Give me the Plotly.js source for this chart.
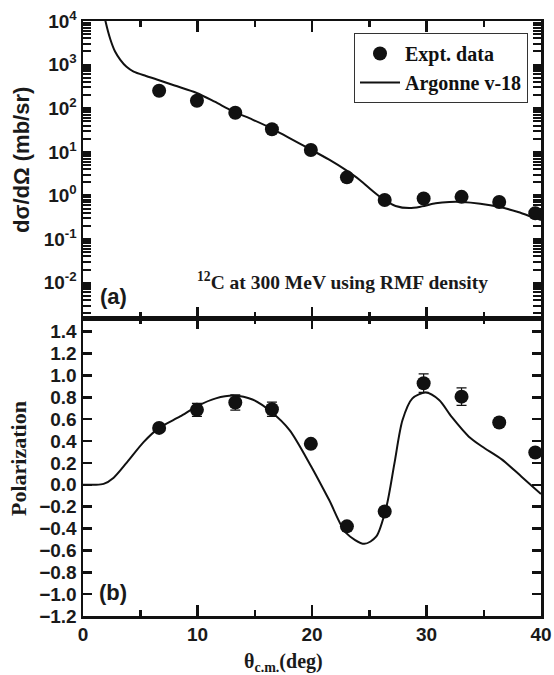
<!DOCTYPE html>
<html>
<head>
<meta charset="utf-8">
<script src="https://cdn.plot.ly/plotly-3.0.1.min.js"></script>
<style>html,body{margin:0;padding:0;background:#fff;}#chart{width:554px;height:675px;}</style>
</head>
<body>
<div id="chart"></div>
<script>
// ---- Data ----
const exptAngle = [6.65, 9.95, 13.3, 16.5, 19.9, 23.05, 26.35, 29.75, 33.06, 36.35, 39.5];
const exptXsec  = [251, 148, 79, 33, 11, 2.6, 0.79, 0.85, 0.93, 0.71, 0.39];
const exptPol   = [0.52, 0.685, 0.752, 0.69, 0.374, -0.38, -0.244, 0.929, 0.806, 0.569, 0.295];
const exptPolErr= [0.02, 0.06, 0.07, 0.065, 0.03, 0.03, 0.03, 0.085, 0.08, 0.04, 0.03];

const calcAngleX = [1.2, 1.96, 2.4, 2.8, 3.26, 3.8, 4.42, 5.5, 6.45, 8, 9.93, 11.5, 13.1, 14.8, 16.45, 18, 19.84, 21.5, 22.97, 24.2, 25.3, 26.3, 27.3, 28.5, 29.6, 30.8, 32, 33.1, 34.7, 36.3, 38, 39.5, 40];
const calcXsec   = [100000, 10000, 3715, 1995, 1288, 891, 692, 550, 457, 331, 224, 141, 85, 55, 34.7, 20.9, 11.5, 6.6, 3.8, 2.24, 1.26, 0.79, 0.575, 0.513, 0.562, 0.66, 0.708, 0.708, 0.646, 0.55, 0.417, 0.302, 0.275];

const calcAngleP = [0, 1.0, 1.8, 2.68, 3.84, 5.29, 6.65, 8.48, 10, 11.6, 13.2, 14.8, 16.4, 18.04, 19.93, 21.5, 22.97, 24.57, 25.6, 26.5, 27.2, 27.9, 28.77, 29.93, 31.1, 32.2, 33.7, 34.85, 36.6, 38.3, 40];
const calcPol    = [0, 0, 0.008, 0.065, 0.205, 0.39, 0.52, 0.625, 0.72, 0.79, 0.815, 0.78, 0.67, 0.50, 0.167, -0.14, -0.44, -0.54, -0.475, -0.2, 0.196, 0.59, 0.79, 0.843, 0.775, 0.62, 0.44, 0.35, 0.23, 0.074, -0.085];

const xsecTickVals = [1e-2, 1e-1, 1e0, 1e1, 1e2, 1e3, 1e4];
const xsecTickText = ['10<sup>-2</sup>','10<sup>-1</sup>','10<sup>0</sup>','10<sup>1</sup>','10<sup>2</sup>','10<sup>3</sup>','10<sup>4</sup>'];
const minorDigits  = [2, 3, 4, 5, 6, 7, 8, 9];

// ---- Styling ----
const sans = 'Liberation Sans, Arial, sans-serif';
const serif = 'Liberation Serif, Times New Roman, serif';
const tickFont = {family: sans, size: 19, color: '#1a1a1a', weight: 'bold'};
const axisCommon = {
  showline: true, linecolor: '#111', linewidth: 2.5, mirror: 'ticks',
  ticks: 'inside', tickcolor: '#111', tickwidth: 2.5, showgrid: false, zeroline: false
};

// log axis ticks: labelled decades plus unlabelled digit ticks in between
const logTickVals = xsecTickVals.slice();
const logTickText = xsecTickText.slice();
[1e-3].concat(xsecTickVals.slice(0, -1)).forEach(d => minorDigits.forEach(m => {
  logTickVals.push(d * m); logTickText.push(' ');
}));

const traces = [
  {x: exptAngle, y: exptXsec, xaxis: 'x', yaxis: 'y', type: 'scatter', mode: 'markers',
   name: 'Expt. data', marker: {symbol: 'circle', size: 14, color: '#111'}},
  {x: calcAngleX, y: calcXsec, xaxis: 'x', yaxis: 'y', type: 'scatter', mode: 'lines',
   name: 'Argonne v-18', line: {color: '#111', width: 2, shape: 'spline', smoothing: 0.8}},
  {x: exptAngle, y: exptPol, xaxis: 'x2', yaxis: 'y2', type: 'scatter', mode: 'markers',
   name: 'Expt. data', showlegend: false,
   error_y: {type: 'data', array: exptPolErr, visible: true, color: '#111', thickness: 1.2, width: 5},
   marker: {symbol: 'circle', size: 14, color: '#111'}},
  {x: calcAngleP, y: calcPol, xaxis: 'x2', yaxis: 'y2', type: 'scatter', mode: 'lines',
   name: 'Argonne v-18', showlegend: false,
   line: {color: '#111', width: 2, shape: 'spline', smoothing: 0.8}}
];

const py = p => (616 - p) / 595;   // pixel -> paper helpers (layout only)
const px = p => (p - 83) / 458;

function ann(text, x, y, font, extra) {
  return Object.assign({text: text, xref: 'paper', yref: 'paper', x: px(x), y: py(y),
    xanchor: 'center', yanchor: 'middle', showarrow: false, font: font}, extra || {});
}

const layout = {
  width: 554, height: 675,
  margin: {l: 83, r: 13, t: 21, b: 59},
  paper_bgcolor: '#fff', plot_bgcolor: '#fff',
  showlegend: true,
  legend: {x: px(528), y: py(33), xanchor: 'right', yanchor: 'top',
    bordercolor: '#333', borderwidth: 1, bgcolor: '#fff',
    font: {family: serif, size: 20, color: '#111', weight: 'bold'},
    tracegroupgap: 0, itemwidth: 40},
  xaxis: Object.assign({}, axisCommon, {domain: [0, 1], range: [0, 40], anchor: 'y',
    showticklabels: false, dtick: 10, ticklen: 11,
    minor: {dtick: 5, ticks: 'inside', ticklen: 6, tickwidth: 2.5, tickcolor: '#111'}}),
  yaxis: Object.assign({}, axisCommon, {domain: [py(318), 1], type: 'log', range: [-2.809, 4], anchor: 'x',
    tickmode: 'array', tickvals: logTickVals, ticktext: logTickText, ticklen: 8, tickwidth: 2,
    tickfont: tickFont}),
  xaxis2: Object.assign({}, axisCommon, {domain: [0, 1], range: [0, 40], anchor: 'y2',
    dtick: 10, ticklen: 11, tickfont: tickFont,
    minor: {dtick: 5, ticks: 'inside', ticklen: 6, tickwidth: 2.5, tickcolor: '#111'}}),
  yaxis2: Object.assign({}, axisCommon, {domain: [0, py(318)], range: [-1.2, 1.525], anchor: 'x2',
    dtick: 0.2, tick0: 0, tickformat: '.1f', ticklen: 9, tickfont: tickFont}),
  annotations: [
    ann('dσ/dΩ (mb/sr)', 22, 160, {family: sans, size: 22, color: '#1a1a1a', weight: 'bold'}, {textangle: -90}),
    ann('Polarization', 18, 459, {family: serif, size: 22, color: '#1a1a1a', weight: 'bold'}, {textangle: -90}),
    ann('θ<sub>c.m.</sub>(deg)', 283, 662, {family: serif, size: 20, color: '#1a1a1a', weight: 'bold'}),
    ann('(a)', 113, 296, {family: sans, size: 22, color: '#1a1a1a', weight: 'bold'}),
    ann('(b)', 113, 592, {family: sans, size: 22, color: '#1a1a1a', weight: 'bold'}),
    ann('<sup>12</sup>C at 300 MeV using RMF density', 195, 281,
        {family: serif, size: 19.5, color: '#1a1a1a', weight: 'bold'}, {xanchor: 'left'})
  ]
};

Plotly.newPlot('chart', traces, layout, {displayModeBar: false, staticPlot: true});
</script>
</body>
</html>
